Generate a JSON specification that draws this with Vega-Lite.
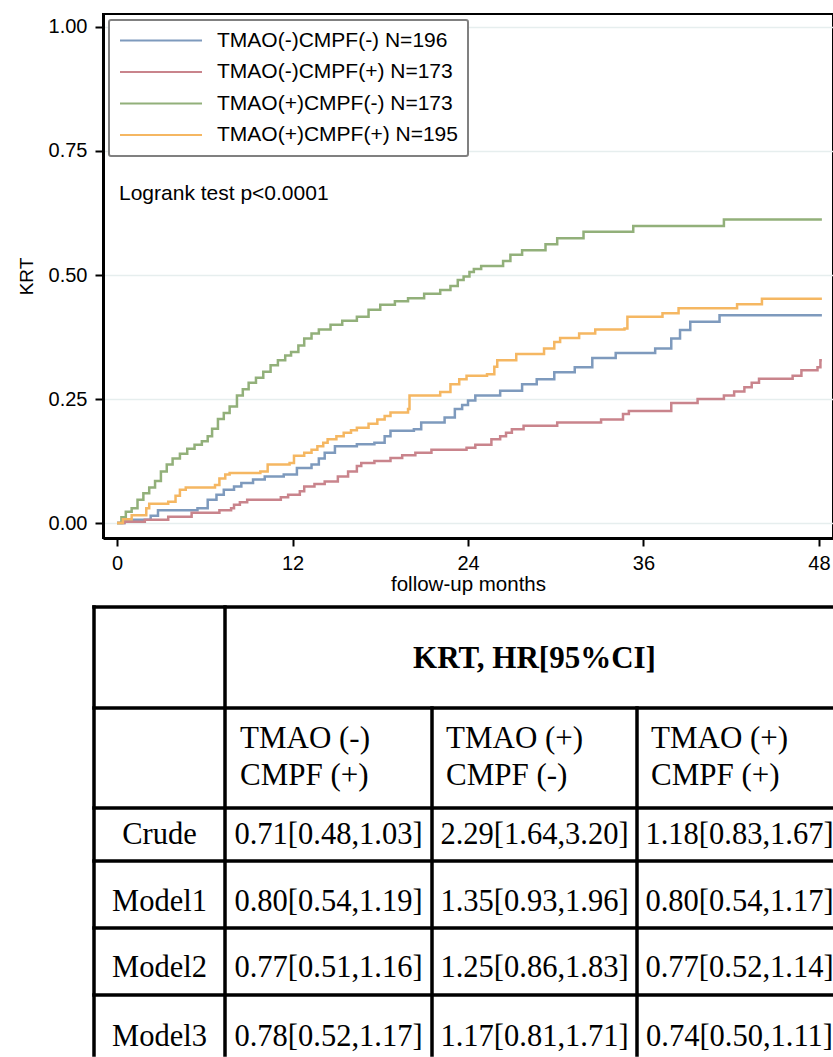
{
  "$schema": "https://vega.github.io/schema/vega-lite/v6.json",
  "padding": {"left": 16, "top": 13, "right": 0, "bottom": 0},
  "background": "white",
  "config": {
    "font": "Liberation Sans",
    "view": {"stroke": "black", "strokeWidth": 2},
    "legend": {"strokeWidth": 2},
    "axis": {
      "domainColor": "black", "domainWidth": 3, "tickColor": "black", "tickWidth": 2, "tickSize": 8,
      "labelFont": "Liberation Sans", "labelFontSize": 20, "labelColor": "black",
      "titleFont": "Liberation Sans", "titleFontWeight": "normal", "titleColor": "black"
    }
  },
  "datasets": {
    "km": [
      {"group": "TMAO(-)CMPF(-) N=196", "t": 0, "v": 0},
      {"group": "TMAO(-)CMPF(-) N=196", "t": 0.5, "v": 0.007},
      {"group": "TMAO(-)CMPF(-) N=196", "t": 2.3, "v": 0.015},
      {"group": "TMAO(-)CMPF(-) N=196", "t": 2.8, "v": 0.026},
      {"group": "TMAO(-)CMPF(-) N=196", "t": 5.5, "v": 0.03},
      {"group": "TMAO(-)CMPF(-) N=196", "t": 6.2, "v": 0.047},
      {"group": "TMAO(-)CMPF(-) N=196", "t": 6.8, "v": 0.057},
      {"group": "TMAO(-)CMPF(-) N=196", "t": 7.3, "v": 0.067},
      {"group": "TMAO(-)CMPF(-) N=196", "t": 8.0, "v": 0.074},
      {"group": "TMAO(-)CMPF(-) N=196", "t": 8.5, "v": 0.081},
      {"group": "TMAO(-)CMPF(-) N=196", "t": 9.3, "v": 0.088},
      {"group": "TMAO(-)CMPF(-) N=196", "t": 10.1, "v": 0.094},
      {"group": "TMAO(-)CMPF(-) N=196", "t": 11.4, "v": 0.098},
      {"group": "TMAO(-)CMPF(-) N=196", "t": 12.3, "v": 0.111},
      {"group": "TMAO(-)CMPF(-) N=196", "t": 13.3, "v": 0.118},
      {"group": "TMAO(-)CMPF(-) N=196", "t": 13.8, "v": 0.13},
      {"group": "TMAO(-)CMPF(-) N=196", "t": 14.2, "v": 0.142},
      {"group": "TMAO(-)CMPF(-) N=196", "t": 14.9, "v": 0.155},
      {"group": "TMAO(-)CMPF(-) N=196", "t": 16.4, "v": 0.159},
      {"group": "TMAO(-)CMPF(-) N=196", "t": 17.6, "v": 0.162},
      {"group": "TMAO(-)CMPF(-) N=196", "t": 18.3, "v": 0.175},
      {"group": "TMAO(-)CMPF(-) N=196", "t": 18.7, "v": 0.186},
      {"group": "TMAO(-)CMPF(-) N=196", "t": 20.3, "v": 0.189},
      {"group": "TMAO(-)CMPF(-) N=196", "t": 20.8, "v": 0.203},
      {"group": "TMAO(-)CMPF(-) N=196", "t": 22.4, "v": 0.213},
      {"group": "TMAO(-)CMPF(-) N=196", "t": 23.1, "v": 0.23},
      {"group": "TMAO(-)CMPF(-) N=196", "t": 23.6, "v": 0.238},
      {"group": "TMAO(-)CMPF(-) N=196", "t": 24.0, "v": 0.247},
      {"group": "TMAO(-)CMPF(-) N=196", "t": 24.5, "v": 0.257},
      {"group": "TMAO(-)CMPF(-) N=196", "t": 26.2, "v": 0.267},
      {"group": "TMAO(-)CMPF(-) N=196", "t": 27.7, "v": 0.28},
      {"group": "TMAO(-)CMPF(-) N=196", "t": 28.7, "v": 0.29},
      {"group": "TMAO(-)CMPF(-) N=196", "t": 29.9, "v": 0.304},
      {"group": "TMAO(-)CMPF(-) N=196", "t": 31.3, "v": 0.314},
      {"group": "TMAO(-)CMPF(-) N=196", "t": 32.5, "v": 0.333},
      {"group": "TMAO(-)CMPF(-) N=196", "t": 34.1, "v": 0.343},
      {"group": "TMAO(-)CMPF(-) N=196", "t": 36.8, "v": 0.352},
      {"group": "TMAO(-)CMPF(-) N=196", "t": 37.9, "v": 0.372},
      {"group": "TMAO(-)CMPF(-) N=196", "t": 38.5, "v": 0.389},
      {"group": "TMAO(-)CMPF(-) N=196", "t": 39.2, "v": 0.406},
      {"group": "TMAO(-)CMPF(-) N=196", "t": 41.2, "v": 0.419},
      {"group": "TMAO(-)CMPF(-) N=196", "t": 48.2, "v": 0.419},

      {"group": "TMAO(-)CMPF(+) N=173", "t": 0, "v": 0},
      {"group": "TMAO(-)CMPF(+) N=173", "t": 0.5, "v": 0.003},
      {"group": "TMAO(-)CMPF(+) N=173", "t": 1.9, "v": 0.007},
      {"group": "TMAO(-)CMPF(+) N=173", "t": 3.5, "v": 0.013},
      {"group": "TMAO(-)CMPF(+) N=173", "t": 5.1, "v": 0.021},
      {"group": "TMAO(-)CMPF(+) N=173", "t": 7.0, "v": 0.026},
      {"group": "TMAO(-)CMPF(+) N=173", "t": 7.8, "v": 0.03},
      {"group": "TMAO(-)CMPF(+) N=173", "t": 8.0, "v": 0.037},
      {"group": "TMAO(-)CMPF(+) N=173", "t": 8.4, "v": 0.042},
      {"group": "TMAO(-)CMPF(+) N=173", "t": 8.9, "v": 0.047},
      {"group": "TMAO(-)CMPF(+) N=173", "t": 11.2, "v": 0.052},
      {"group": "TMAO(-)CMPF(+) N=173", "t": 11.7, "v": 0.057},
      {"group": "TMAO(-)CMPF(+) N=173", "t": 12.5, "v": 0.064},
      {"group": "TMAO(-)CMPF(+) N=173", "t": 12.8, "v": 0.074},
      {"group": "TMAO(-)CMPF(+) N=173", "t": 13.5, "v": 0.079},
      {"group": "TMAO(-)CMPF(+) N=173", "t": 14.2, "v": 0.084},
      {"group": "TMAO(-)CMPF(+) N=173", "t": 15.1, "v": 0.094},
      {"group": "TMAO(-)CMPF(+) N=173", "t": 15.8, "v": 0.104},
      {"group": "TMAO(-)CMPF(+) N=173", "t": 16.4, "v": 0.115},
      {"group": "TMAO(-)CMPF(+) N=173", "t": 16.7, "v": 0.121},
      {"group": "TMAO(-)CMPF(+) N=173", "t": 17.6, "v": 0.125},
      {"group": "TMAO(-)CMPF(+) N=173", "t": 18.7, "v": 0.131},
      {"group": "TMAO(-)CMPF(+) N=173", "t": 19.5, "v": 0.137},
      {"group": "TMAO(-)CMPF(+) N=173", "t": 20.4, "v": 0.142},
      {"group": "TMAO(-)CMPF(+) N=173", "t": 21.5, "v": 0.148},
      {"group": "TMAO(-)CMPF(+) N=173", "t": 23.9, "v": 0.152},
      {"group": "TMAO(-)CMPF(+) N=173", "t": 24.5, "v": 0.158},
      {"group": "TMAO(-)CMPF(+) N=173", "t": 25.6, "v": 0.169},
      {"group": "TMAO(-)CMPF(+) N=173", "t": 26.2, "v": 0.175},
      {"group": "TMAO(-)CMPF(+) N=173", "t": 26.6, "v": 0.182},
      {"group": "TMAO(-)CMPF(+) N=173", "t": 27.0, "v": 0.189},
      {"group": "TMAO(-)CMPF(+) N=173", "t": 27.8, "v": 0.196},
      {"group": "TMAO(-)CMPF(+) N=173", "t": 30.1, "v": 0.203},
      {"group": "TMAO(-)CMPF(+) N=173", "t": 33.1, "v": 0.209},
      {"group": "TMAO(-)CMPF(+) N=173", "t": 34.6, "v": 0.22},
      {"group": "TMAO(-)CMPF(+) N=173", "t": 35.0, "v": 0.226},
      {"group": "TMAO(-)CMPF(+) N=173", "t": 37.9, "v": 0.242},
      {"group": "TMAO(-)CMPF(+) N=173", "t": 39.7, "v": 0.25},
      {"group": "TMAO(-)CMPF(+) N=173", "t": 41.5, "v": 0.257},
      {"group": "TMAO(-)CMPF(+) N=173", "t": 42.2, "v": 0.265},
      {"group": "TMAO(-)CMPF(+) N=173", "t": 42.9, "v": 0.274},
      {"group": "TMAO(-)CMPF(+) N=173", "t": 43.4, "v": 0.283},
      {"group": "TMAO(-)CMPF(+) N=173", "t": 43.9, "v": 0.291},
      {"group": "TMAO(-)CMPF(+) N=173", "t": 46.2, "v": 0.297},
      {"group": "TMAO(-)CMPF(+) N=173", "t": 46.8, "v": 0.308},
      {"group": "TMAO(-)CMPF(+) N=173", "t": 47.9, "v": 0.314},
      {"group": "TMAO(-)CMPF(+) N=173", "t": 48.1, "v": 0.328},
      {"group": "TMAO(-)CMPF(+) N=173", "t": 48.2, "v": 0.328},

      {"group": "TMAO(+)CMPF(-) N=173", "t": 0, "v": 0},
      {"group": "TMAO(+)CMPF(-) N=173", "t": 0.3, "v": 0.012},
      {"group": "TMAO(+)CMPF(-) N=173", "t": 0.6, "v": 0.023},
      {"group": "TMAO(+)CMPF(-) N=173", "t": 1.0, "v": 0.03},
      {"group": "TMAO(+)CMPF(-) N=173", "t": 1.4, "v": 0.047},
      {"group": "TMAO(+)CMPF(-) N=173", "t": 1.8, "v": 0.06},
      {"group": "TMAO(+)CMPF(-) N=173", "t": 2.2, "v": 0.072},
      {"group": "TMAO(+)CMPF(-) N=173", "t": 2.6, "v": 0.085},
      {"group": "TMAO(+)CMPF(-) N=173", "t": 3.0, "v": 0.104},
      {"group": "TMAO(+)CMPF(-) N=173", "t": 3.4, "v": 0.118},
      {"group": "TMAO(+)CMPF(-) N=173", "t": 3.8, "v": 0.13},
      {"group": "TMAO(+)CMPF(-) N=173", "t": 4.3, "v": 0.14},
      {"group": "TMAO(+)CMPF(-) N=173", "t": 4.8, "v": 0.15},
      {"group": "TMAO(+)CMPF(-) N=173", "t": 5.3, "v": 0.158},
      {"group": "TMAO(+)CMPF(-) N=173", "t": 5.8, "v": 0.165},
      {"group": "TMAO(+)CMPF(-) N=173", "t": 6.2, "v": 0.175},
      {"group": "TMAO(+)CMPF(-) N=173", "t": 6.5, "v": 0.19},
      {"group": "TMAO(+)CMPF(-) N=173", "t": 6.9, "v": 0.21},
      {"group": "TMAO(+)CMPF(-) N=173", "t": 7.3, "v": 0.222},
      {"group": "TMAO(+)CMPF(-) N=173", "t": 7.7, "v": 0.235},
      {"group": "TMAO(+)CMPF(-) N=173", "t": 8.2, "v": 0.257},
      {"group": "TMAO(+)CMPF(-) N=173", "t": 8.6, "v": 0.27},
      {"group": "TMAO(+)CMPF(-) N=173", "t": 9.0, "v": 0.283},
      {"group": "TMAO(+)CMPF(-) N=173", "t": 9.5, "v": 0.293},
      {"group": "TMAO(+)CMPF(-) N=173", "t": 10.0, "v": 0.305},
      {"group": "TMAO(+)CMPF(-) N=173", "t": 10.5, "v": 0.318},
      {"group": "TMAO(+)CMPF(-) N=173", "t": 11.0, "v": 0.328},
      {"group": "TMAO(+)CMPF(-) N=173", "t": 11.5, "v": 0.338},
      {"group": "TMAO(+)CMPF(-) N=173", "t": 11.9, "v": 0.345},
      {"group": "TMAO(+)CMPF(-) N=173", "t": 12.4, "v": 0.358},
      {"group": "TMAO(+)CMPF(-) N=173", "t": 12.8, "v": 0.372},
      {"group": "TMAO(+)CMPF(-) N=173", "t": 13.3, "v": 0.382},
      {"group": "TMAO(+)CMPF(-) N=173", "t": 13.8, "v": 0.39},
      {"group": "TMAO(+)CMPF(-) N=173", "t": 14.6, "v": 0.4},
      {"group": "TMAO(+)CMPF(-) N=173", "t": 15.4, "v": 0.408},
      {"group": "TMAO(+)CMPF(-) N=173", "t": 16.4, "v": 0.416},
      {"group": "TMAO(+)CMPF(-) N=173", "t": 17.2, "v": 0.43},
      {"group": "TMAO(+)CMPF(-) N=173", "t": 18.0, "v": 0.44},
      {"group": "TMAO(+)CMPF(-) N=173", "t": 19.0, "v": 0.447},
      {"group": "TMAO(+)CMPF(-) N=173", "t": 19.9, "v": 0.453},
      {"group": "TMAO(+)CMPF(-) N=173", "t": 21.0, "v": 0.462},
      {"group": "TMAO(+)CMPF(-) N=173", "t": 22.1, "v": 0.47},
      {"group": "TMAO(+)CMPF(-) N=173", "t": 22.8, "v": 0.478},
      {"group": "TMAO(+)CMPF(-) N=173", "t": 23.3, "v": 0.49},
      {"group": "TMAO(+)CMPF(-) N=173", "t": 23.7, "v": 0.497},
      {"group": "TMAO(+)CMPF(-) N=173", "t": 24.1, "v": 0.506},
      {"group": "TMAO(+)CMPF(-) N=173", "t": 24.4, "v": 0.512},
      {"group": "TMAO(+)CMPF(-) N=173", "t": 24.9, "v": 0.518},
      {"group": "TMAO(+)CMPF(-) N=173", "t": 26.4, "v": 0.528},
      {"group": "TMAO(+)CMPF(-) N=173", "t": 26.9, "v": 0.541},
      {"group": "TMAO(+)CMPF(-) N=173", "t": 27.7, "v": 0.55},
      {"group": "TMAO(+)CMPF(-) N=173", "t": 29.3, "v": 0.562},
      {"group": "TMAO(+)CMPF(-) N=173", "t": 30.1, "v": 0.574},
      {"group": "TMAO(+)CMPF(-) N=173", "t": 31.9, "v": 0.587},
      {"group": "TMAO(+)CMPF(-) N=173", "t": 35.3, "v": 0.599},
      {"group": "TMAO(+)CMPF(-) N=173", "t": 41.5, "v": 0.612},
      {"group": "TMAO(+)CMPF(-) N=173", "t": 48.2, "v": 0.612},

      {"group": "TMAO(+)CMPF(+) N=195", "t": 0, "v": 0},
      {"group": "TMAO(+)CMPF(+) N=195", "t": 0.4, "v": 0.008},
      {"group": "TMAO(+)CMPF(+) N=195", "t": 1.0, "v": 0.016},
      {"group": "TMAO(+)CMPF(+) N=195", "t": 2.0, "v": 0.03},
      {"group": "TMAO(+)CMPF(+) N=195", "t": 2.2, "v": 0.039},
      {"group": "TMAO(+)CMPF(+) N=195", "t": 3.5, "v": 0.043},
      {"group": "TMAO(+)CMPF(+) N=195", "t": 4.0, "v": 0.055},
      {"group": "TMAO(+)CMPF(+) N=195", "t": 4.3, "v": 0.067},
      {"group": "TMAO(+)CMPF(+) N=195", "t": 4.7, "v": 0.072},
      {"group": "TMAO(+)CMPF(+) N=195", "t": 6.7, "v": 0.077},
      {"group": "TMAO(+)CMPF(+) N=195", "t": 7.0, "v": 0.09},
      {"group": "TMAO(+)CMPF(+) N=195", "t": 7.4, "v": 0.098},
      {"group": "TMAO(+)CMPF(+) N=195", "t": 7.7, "v": 0.101},
      {"group": "TMAO(+)CMPF(+) N=195", "t": 9.8, "v": 0.104},
      {"group": "TMAO(+)CMPF(+) N=195", "t": 10.3, "v": 0.118},
      {"group": "TMAO(+)CMPF(+) N=195", "t": 11.8, "v": 0.121},
      {"group": "TMAO(+)CMPF(+) N=195", "t": 12.1, "v": 0.136},
      {"group": "TMAO(+)CMPF(+) N=195", "t": 12.8, "v": 0.142},
      {"group": "TMAO(+)CMPF(+) N=195", "t": 13.3, "v": 0.148},
      {"group": "TMAO(+)CMPF(+) N=195", "t": 13.7, "v": 0.155},
      {"group": "TMAO(+)CMPF(+) N=195", "t": 14.1, "v": 0.162},
      {"group": "TMAO(+)CMPF(+) N=195", "t": 14.4, "v": 0.169},
      {"group": "TMAO(+)CMPF(+) N=195", "t": 15.0, "v": 0.175},
      {"group": "TMAO(+)CMPF(+) N=195", "t": 15.5, "v": 0.182},
      {"group": "TMAO(+)CMPF(+) N=195", "t": 16.0, "v": 0.187},
      {"group": "TMAO(+)CMPF(+) N=195", "t": 16.4, "v": 0.192},
      {"group": "TMAO(+)CMPF(+) N=195", "t": 17.2, "v": 0.2},
      {"group": "TMAO(+)CMPF(+) N=195", "t": 17.8, "v": 0.209},
      {"group": "TMAO(+)CMPF(+) N=195", "t": 18.3, "v": 0.216},
      {"group": "TMAO(+)CMPF(+) N=195", "t": 18.7, "v": 0.223},
      {"group": "TMAO(+)CMPF(+) N=195", "t": 19.9, "v": 0.23},
      {"group": "TMAO(+)CMPF(+) N=195", "t": 20.0, "v": 0.257},
      {"group": "TMAO(+)CMPF(+) N=195", "t": 22.1, "v": 0.264},
      {"group": "TMAO(+)CMPF(+) N=195", "t": 22.8, "v": 0.28},
      {"group": "TMAO(+)CMPF(+) N=195", "t": 23.4, "v": 0.29},
      {"group": "TMAO(+)CMPF(+) N=195", "t": 23.9, "v": 0.297},
      {"group": "TMAO(+)CMPF(+) N=195", "t": 25.3, "v": 0.3},
      {"group": "TMAO(+)CMPF(+) N=195", "t": 25.8, "v": 0.315},
      {"group": "TMAO(+)CMPF(+) N=195", "t": 26.0, "v": 0.328},
      {"group": "TMAO(+)CMPF(+) N=195", "t": 27.3, "v": 0.341},
      {"group": "TMAO(+)CMPF(+) N=195", "t": 29.2, "v": 0.352},
      {"group": "TMAO(+)CMPF(+) N=195", "t": 29.9, "v": 0.365},
      {"group": "TMAO(+)CMPF(+) N=195", "t": 30.3, "v": 0.373},
      {"group": "TMAO(+)CMPF(+) N=195", "t": 31.6, "v": 0.382},
      {"group": "TMAO(+)CMPF(+) N=195", "t": 32.7, "v": 0.39},
      {"group": "TMAO(+)CMPF(+) N=195", "t": 34.7, "v": 0.392},
      {"group": "TMAO(+)CMPF(+) N=195", "t": 34.9, "v": 0.416},
      {"group": "TMAO(+)CMPF(+) N=195", "t": 37.3, "v": 0.423},
      {"group": "TMAO(+)CMPF(+) N=195", "t": 38.4, "v": 0.433},
      {"group": "TMAO(+)CMPF(+) N=195", "t": 42.4, "v": 0.441},
      {"group": "TMAO(+)CMPF(+) N=195", "t": 44.1, "v": 0.452},
      {"group": "TMAO(+)CMPF(+) N=195", "t": 48.2, "v": 0.452}
    ],
    "gridlines": [
      {"x": -0.5, "x2": 3.5, "y": -0.5, "y2": -0.5},
      {"x": -0.5, "x2": 3.5, "y": 0.5, "y2": 0.5},
      {"x": -0.5, "x2": 3.5, "y": 1.5, "y2": 1.5},
      {"x": -0.5, "x2": 3.5, "y": 2.5, "y2": 2.5},
      {"x": -0.5, "x2": 3.5, "y": 3.5, "y2": 3.5},
      {"x": -0.5, "x2": 3.5, "y": 4.5, "y2": 4.5},
      {"x": -0.5, "x2": -0.5, "y": -0.5, "y2": 5.5},
      {"x": 0.5, "x2": 0.5, "y": -0.5, "y2": 5.5},
      {"x": 1.5, "x2": 1.5, "y": 0.5, "y2": 5.5},
      {"x": 2.5, "x2": 2.5, "y": 0.5, "y2": 5.5}
    ],
    "spanHeader": [
      {"row": 0, "col": 2, "text": "KRT, HR[95%CI]"}
    ],
    "groupHeader": [
      {"row": 1, "col": 1, "text": "TMAO (-)\nCMPF (+)"},
      {"row": 1, "col": 2, "text": "TMAO (+)\nCMPF (-)"},
      {"row": 1, "col": 3, "text": "TMAO (+)\nCMPF (+)"}
    ],
    "body": [
      {"row": 2, "col": 0, "text": "Crude"},
      {"row": 3, "col": 0, "text": "Model1"},
      {"row": 4, "col": 0, "text": "Model2"},
      {"row": 5, "col": 0, "text": "Model3"},
      {"row": 2, "col": 1, "text": "0.71[0.48,1.03]"},
      {"row": 3, "col": 1, "text": "0.80[0.54,1.19]"},
      {"row": 4, "col": 1, "text": "0.77[0.51,1.16]"},
      {"row": 5, "col": 1, "text": "0.78[0.52,1.17]"},
      {"row": 2, "col": 2, "text": "2.29[1.64,3.20]"},
      {"row": 3, "col": 2, "text": "1.35[0.93,1.96]"},
      {"row": 4, "col": 2, "text": "1.25[0.86,1.83]"},
      {"row": 5, "col": 2, "text": "1.17[0.81,1.71]"},
      {"row": 2, "col": 3, "text": "1.18[0.83,1.67]"},
      {"row": 3, "col": 3, "text": "0.80[0.54,1.17]"},
      {"row": 4, "col": 3, "text": "0.77[0.52,1.14]"},
      {"row": 5, "col": 3, "text": "0.74[0.50,1.11]"}
    ]
  },
  "vconcat": [
    {
      "width": 730,
      "height": 524,
      "layer": [
        {
          "data": {"name": "km"},
          "mark": {"type": "line", "interpolate": "step-after", "strokeWidth": 2.5},
          "encoding": {
            "x": {
              "field": "t", "type": "quantitative",
              "scale": {"domain": [-0.96, 48.96], "nice": false, "zero": false},
              "axis": {"values": [0, 12, 24, 36, 48], "format": "d", "title": "follow-up months", "grid": false,
                       "labelPadding": 7, "titlePadding": 1, "titleFontSize": 20.5}
            },
            "y": {
              "field": "v", "type": "quantitative",
              "scale": {"domain": [-0.03, 1.026], "nice": false, "zero": false},
              "axis": {"values": [0, 0.25, 0.5, 0.75, 1], "format": ".2f", "title": "KRT",
                       "grid": true, "gridColor": "#e6eeee", "gridWidth": 1.5,
                       "labelPadding": 8, "titlePadding": 12, "titleFontSize": 19}
            },
            "color": {
              "field": "group", "type": "nominal",
              "scale": {
                "domain": ["TMAO(-)CMPF(-) N=196", "TMAO(-)CMPF(+) N=173", "TMAO(+)CMPF(-) N=173", "TMAO(+)CMPF(+) N=195"],
                "range": ["#7e9abd", "#c9848c", "#92b07a", "#f5b762"]
              },
              "legend": {
                "title": null, "orient": "top-left", "offset": 6, "padding": 10,
                "symbolType": "stroke", "symbolSize": 6724, "symbolStrokeWidth": 2,
                "labelFont": "Liberation Sans", "labelFontSize": 21, "labelColor": "black",
                "labelOffset": 14, "rowPadding": 9.5, "clipHeight": 21, "labelLimit": 400,
                "strokeColor": "#808080", "fillColor": "white", "cornerRadius": 2
              }
            }
          }
        },
        {
          "data": {"values": [{}]},
          "mark": {"type": "text", "align": "left", "baseline": "alphabetic", "font": "Liberation Sans", "fontSize": 21, "color": "black"},
          "encoding": {
            "x": {"datum": 0.134},
            "y": {"datum": 0.651},
            "text": {"value": "Logrank test p<0.0001"}
          }
        }
      ]
    },
    {
      "width": 731,
      "height": 450,
      "view": {"stroke": null},
      "layer": [
        {
          "data": {"name": "gridlines"},
          "mark": {"type": "rule", "color": "black", "strokeWidth": 3.5, "strokeCap": "square"},
          "encoding": {
            "x": {"field": "x", "type": "quantitative", "axis": null,
                  "scale": {"domain": [-0.5, 0.5, 1, 1.5, 2, 2.5, 3, 3.5], "range": [-9, 122, 225.5, 329, 431.5, 534, 636.5, 729], "nice": false, "zero": false}},
            "x2": {"field": "x2"},
            "y": {"field": "y", "type": "quantitative", "axis": null,
                  "scale": {"domain": [-0.5, 0, 0.5, 1, 1.5, 2, 2.5, 3, 3.5, 4, 4.5, 5, 5.5], "range": [0, 52, 101, 151, 201, 228, 254, 295, 321, 361, 388, 430, 448], "nice": false, "zero": false}},
            "y2": {"field": "y2"}
          }
        },
        {
          "data": {"name": "spanHeader"},
          "mark": {"type": "text", "align": "center", "baseline": "middle", "font": "Liberation Serif", "fontWeight": "bold", "fontSize": 31, "color": "black"},
          "encoding": {
            "x": {"field": "col", "type": "quantitative"},
            "y": {"field": "row", "type": "quantitative"},
            "text": {"field": "text"}
          }
        },
        {
          "data": {"name": "groupHeader"},
          "mark": {"type": "text", "align": "left", "baseline": "middle", "dx": -88.5, "dy": -19, "lineBreak": "\n", "lineHeight": 37, "font": "Liberation Serif", "fontSize": 31, "color": "black"},
          "encoding": {
            "x": {"field": "col", "type": "quantitative"},
            "y": {"field": "row", "type": "quantitative"},
            "text": {"field": "text"}
          }
        },
        {
          "data": {"name": "body"},
          "mark": {"type": "text", "align": "center", "baseline": "middle", "font": "Liberation Serif", "fontSize": 30.5, "color": "black"},
          "encoding": {
            "x": {"field": "col", "type": "quantitative"},
            "y": {"field": "row", "type": "quantitative"},
            "text": {"field": "text"}
          }
        }
      ]
    }
  ],
  "bounds": "flush",
  "spacing": 69
}
